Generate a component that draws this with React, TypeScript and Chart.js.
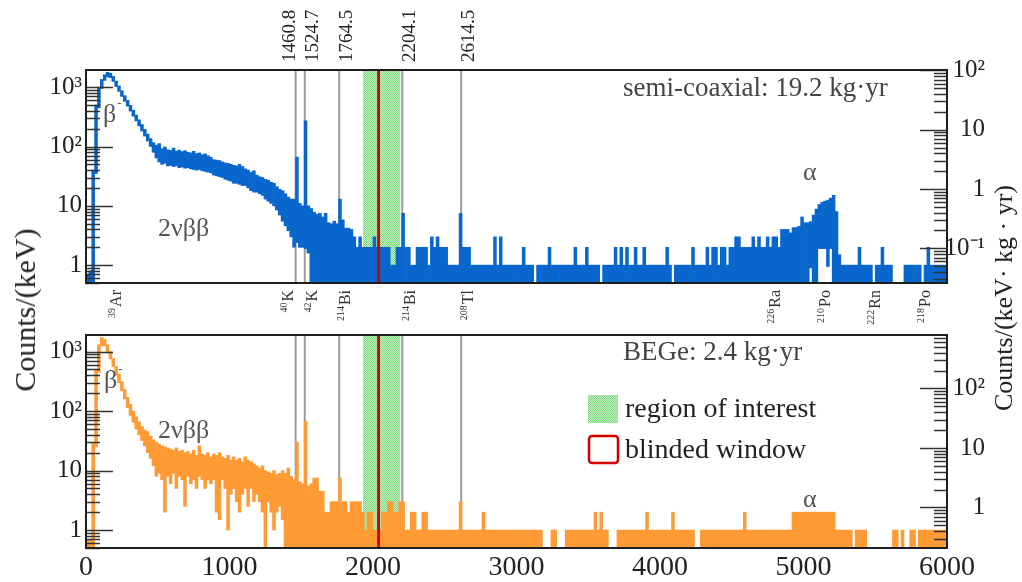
import React, { useEffect, useRef } from 'react';
import { Chart, registerables } from 'chart.js';

Chart.register(...registerables);

const FONT = '"Liberation Serif", "Times New Roman", serif';
const BLUE = '#0866cc';
const ORANGE = '#ff9a35';

// ---------- data ----------
const BIN_WIDTH_KEV = 20;
const ENERGY_MIN = 0;
const ENERGY_MAX = 6000;
const ENERGY_TICK_STEP = 1000;

const EXPOSURE_COAX = 19.2; // kg·yr
const EXPOSURE_BEGE = 2.4; // kg·yr
const COAX_Y_RANGE = [0.5, 1950];
const BEGE_Y_RANGE = [0.5, 1900];

// upper / lower envelope of counts per keV in each 20 keV bin (0 = empty / baseline)
const coaxHi = [
  0.7, 0.8, 40, 500, 1000, 1350, 1620, 1780, 1720, 1520, 1270, 1050, 870, 720, 600, 495, 410, 340, 282, 235,
  195, 162, 136, 116, 105, 112, 92, 98, 88, 86, 94, 84, 87, 82, 85, 80, 78, 83, 76, 78,
  73, 75, 70, 66, 60, 59, 58, 55, 53, 52, 50, 48, 47, 50, 46, 42, 40, 37, 39, 33,
  31, 30, 28, 27, 25, 24, 21, 19, 18, 16, 14, 13, 13, 66, 11, 10, 270, 10, 9, 7.8,
  7.2, 7.5, 6.5, 7.5, 5.2, 5, 5.5, 5, 13, 5.8, 4.2, 4.2, 4, 3, 2, 3, 2, 2, 2, 2,
  3, 2, 2, 2, 2, 2, 1, 1, 2, 2, 7.5, 2, 2, 1, 1, 2, 2, 2, 2, 1,
  3, 2, 3, 2, 2, 2, 1, 1, 1, 1, 7.5, 2, 2, 2, 1, 1, 1, 1, 1, 1,
  1, 1, 3, 1, 3, 1, 1, 1, 1, 1, 1, 1, 2, 1, 1, 1, 0, 1, 1, 1,
  1, 2, 1, 1, 1, 1, 1, 1, 1, 1, 2, 1, 1, 1, 2, 1, 1, 1, 1, 0,
  1, 1, 1, 1, 2, 1, 2, 1, 2, 1, 1, 2, 1, 1, 2, 1, 1, 1, 1, 1,
  1, 1, 2, 1, 0, 1, 1, 1, 1, 1, 1, 2, 1, 1, 1, 1, 2, 1, 2, 2,
  1, 2, 2, 1, 2, 2, 3, 3, 2, 2, 2, 2, 3, 2, 3, 2, 2, 3, 2, 3,
  3, 2, 4, 4, 4, 3.5, 4.3, 4.3, 4.5, 6.5, 5.2, 5.2, 5.4, 7, 8.8, 10.5, 11.5, 12, 12.5, 13.5,
  15, 8, 1.5, 1, 1, 1, 1, 1, 1, 2, 1, 1, 1, 1, 0, 1, 1, 2, 1, 1,
  1, 0, 0, 0, 0, 1, 1, 1, 1, 1, 1, 0, 1, 2, 1, 1, 1, 1, 1, 1,
];
const coaxLo = [
  0, 0, 0, 35, 450, 950, 1300, 1500, 1450, 1250, 1030, 850, 700, 580, 480, 395, 325, 270, 222, 182,
  150, 124, 100, 80, 64, 55, 50, 52, 47, 48, 46, 47, 44, 45, 43, 44, 42, 41, 40, 41,
  39, 38, 37, 36, 33, 32, 31, 30, 28, 27, 26, 24, 24, 23, 22, 22, 20, 18, 17, 17,
  16, 15, 13, 12, 11, 10, 8.5, 7, 5.5, 4.6, 3.8, 3, 2, 2.4, 2, 2, 1.9, 1.6, 0, 0,
  0, 0, 0, 0, 0, 0, 0, 0, 0, 0, 0, 0, 0, 0, 0, 0, 0, 0, 0, 0,
  0, 0, 0, 0, 0, 0, 0, 0, 0, 0, 0, 0, 0, 0, 0, 0, 0, 0, 0, 0,
  0, 0, 0, 0, 0, 0, 0, 0, 0, 0, 0, 0, 0, 0, 0, 0, 0, 0, 0, 0,
  0, 0, 0, 0, 0, 0, 0, 0, 0, 0, 0, 0, 0, 0, 0, 0, 0, 0, 0, 0,
  0, 0, 0, 0, 0, 0, 0, 0, 0, 0, 0, 0, 0, 0, 0, 0, 0, 0, 0, 0,
  0, 0, 0, 0, 0, 0, 0, 0, 0, 0, 0, 0, 0, 0, 0, 0, 0, 0, 0, 0,
  0, 0, 0, 0, 0, 0, 0, 0, 0, 0, 0, 0, 0, 0, 0, 0, 0, 0, 0, 0,
  0, 0, 0, 0, 0, 0, 0, 0, 0, 0, 0, 0, 0, 0, 0, 0, 0, 0, 0, 0,
  0, 0, 0, 0, 0, 0, 0, 0, 0, 0, 0, 0, 0.9, 0, 0, 1.9, 1.9, 1.9, 0.95, 1.9,
  0, 0, 0, 0, 0, 0, 0, 0, 0, 0, 0, 0, 0, 0, 0, 0, 0, 0, 0, 0,
  0, 0, 0, 0, 0, 0, 0, 0, 0, 0, 0, 0, 0, 0, 0, 0, 0, 0, 0, 0,
];
const begeHi = [
  0.7, 0.7, 30, 500, 1300, 1720, 1600, 1300, 1000, 760, 560, 420, 310, 230, 170, 130, 100, 80, 66, 55,
  48, 45, 38, 33, 30, 28, 26, 25, 24, 23, 22, 24, 21, 22, 20, 21, 19, 22, 18, 26,
  19, 18, 20, 17, 19, 18, 20, 17, 16, 18, 15, 17, 15, 16, 14, 17, 15, 14, 13, 12,
  11, 12, 10, 9.5, 9, 10, 8.5, 9, 10, 9, 11, 8, 7, 30, 6.5, 6, 68, 5.5, 6, 7.5,
  7.5, 4.5, 4.5, 2, 2, 3, 3, 3, 7.5, 3, 3, 2, 3, 3, 3, 3, 2, 1, 2, 2,
  1, 1, 1, 2, 2, 3, 3, 2, 2, 3, 3, 1, 1, 2, 2, 1, 1, 2, 2, 1,
  1, 1, 1, 1, 1, 1, 1, 1, 1, 1, 3, 1, 1, 1, 1, 1, 1, 1, 2, 1,
  1, 1, 1, 1, 1, 1, 1, 1, 1, 1, 1, 1, 1, 1, 1, 1, 1, 1, 1, 0,
  0, 0, 1, 1, 0, 0, 0, 1, 1, 1, 1, 1, 1, 1, 1, 1, 1, 2, 1, 2,
  1, 1, 0, 0, 0, 1, 1, 1, 1, 1, 1, 1, 1, 1, 1, 2, 1, 1, 1, 1,
  1, 1, 1, 1, 2, 1, 1, 1, 1, 1, 1, 1, 0, 0, 1, 1, 1, 1, 1, 1,
  1, 1, 1, 1, 1, 1, 1, 1, 1, 2, 1, 1, 1, 1, 1, 1, 1, 1, 1, 1,
  1, 1, 1, 1, 1, 1, 2, 2, 2, 2, 2, 2, 2, 2, 2, 2, 2, 2, 2, 2,
  2, 1, 1, 1, 1, 1, 1, 0, 1, 1, 1, 1, 0, 0, 0, 0, 0, 0, 0, 0,
  0, 1, 1, 0, 1, 0, 0, 1, 1, 0, 1, 1, 1, 1, 1, 1, 1, 1, 1, 1,
];
const begeLo = [
  0, 0, 0, 25, 450, 1250, 1250, 950, 750, 560, 400, 300, 220, 160, 115, 85, 65, 50, 40, 32,
  26, 20, 16, 12, 8, 9, 7, 2, 8, 6, 9, 5, 8, 7, 2.5, 8, 6, 7, 5, 8,
  7, 5, 7, 6, 7, 2, 1.5, 7, 5, 1, 4, 5, 3, 2, 4, 5, 2.5, 5, 3, 4,
  3, 2, 0, 3, 2, 1, 2, 2.5, 1.5, 0, 0, 0, 0, 0, 0, 0, 0, 0, 0, 0,
  0, 0, 0, 0, 0, 0, 0, 0, 0, 0, 0, 0, 0, 0, 0, 0, 0, 0, 0, 0,
  0, 0, 0, 0, 0, 0, 0, 0, 0, 0, 0, 0, 0, 0, 0, 0, 0, 0, 0, 0,
  0, 0, 0, 0, 0, 0, 0, 0, 0, 0, 0, 0, 0, 0, 0, 0, 0, 0, 0, 0,
  0, 0, 0, 0, 0, 0, 0, 0, 0, 0, 0, 0, 0, 0, 0, 0, 0, 0, 0, 0,
  0, 0, 0, 0, 0, 0, 0, 0, 0, 0, 0, 0, 0, 0, 0, 0, 0, 0, 0, 0,
  0, 0, 0, 0, 0, 0, 0, 0, 0, 0, 0, 0, 0, 0, 0, 0, 0, 0, 0, 0,
  0, 0, 0, 0, 0, 0, 0, 0, 0, 0, 0, 0, 0, 0, 0, 0, 0, 0, 0, 0,
  0, 0, 0, 0, 0, 0, 0, 0, 0, 0, 0, 0, 0, 0, 0, 0, 0, 0, 0, 0,
  0, 0, 0, 0, 0, 0, 0, 0, 0, 0, 0, 0, 0, 0, 0, 0, 0, 0, 0, 0,
  0, 0, 0, 0, 0, 0, 0, 0, 0, 0, 0, 0, 0, 0, 0, 0, 0, 0, 0, 0,
  0, 0, 0, 0, 0, 0, 0, 0, 0, 0, 0, 0, 0, 0, 0, 0, 0, 0, 0, 0,
];

const gammaLinesKeV = [1460.8, 1524.7, 1764.5, 2204.1, 2614.5];
const gammaLineLabels = ['1460.8', '1524.7', '1764.5', '2204.1', '2614.5'];
const gammaLabelKeV = [1454, 1616, 1855, 2295, 2705];
const roiKeV = [1930, 2190];
const blindKeV = [2029, 2049];
const isotopeMass = ['39', '40', '42', '214', '214', '208', '226', '210', '222', '218'];
const isotopeSymbol = ['Ar', 'K', 'K', 'Bi', 'Bi', 'Tl', 'Ra', 'Po', 'Rn', 'Po'];
const isotopeLabelKeV = [244, 1443, 1609, 1840, 2293, 2697, 4836, 5185, 5533, 5882];

// ---------- helpers ----------
const EMPTY_FLOOR = 0.05; // drawn below the axis minimum (i.e. down to the frame)

function toBars(hi: number[], lo: number[]) {
  return hi.map((h, i) => ({
    x: ENERGY_MIN + i * BIN_WIDTH_KEV + BIN_WIDTH_KEV / 2,
    y: h > 0 ? [lo[i] > 0 ? lo[i] : EMPTY_FLOOR, h] : null,
  }));
}

const SUP: Record<string, string> = {
  '-': '\u207B', '0': '\u2070', '1': '\u00B9', '2': '\u00B2', '3': '\u00B3',
  '4': '\u2074', '5': '\u2075', '6': '\u2076', '7': '\u2077', '8': '\u2078', '9': '\u2079',
};
function powLabel(v: any) {
  const l = Math.log10(Number(v));
  const r = Math.round(l);
  if (Math.abs(l - r) > 1e-6) return null;
  if (r === 0) return '1';
  if (r === 1) return '10';
  return '10' + String(r).split('').map((c) => SUP[c]).join('');
}

function roiPattern(ctx: CanvasRenderingContext2D) {
  const c = document.createElement('canvas');
  c.width = 2;
  c.height = 2;
  const g = c.getContext('2d')!;
  g.fillStyle = '#c6f2c6';
  g.fillRect(0, 0, 2, 2);
  g.fillStyle = '#7ad87a';
  g.fillRect(0, 0, 1, 1);
  g.fillRect(1, 1, 1, 1);
  return ctx.createPattern(c, 'repeat')!;
}

function drawLogTicks(ctx: CanvasRenderingContext2D, scale: any, xEdge: number, dir: number, majorLen: number, minorLen: number) {
  const d0 = Math.floor(Math.log10(scale.min));
  const d1 = Math.ceil(Math.log10(scale.max));
  for (let d = d0; d <= d1; d++) {
    for (let m = 1; m <= 9; m++) {
      const v = m * Math.pow(10, d);
      if (v < scale.min * 0.9999 || v > scale.max * 1.0001) continue;
      const y = Math.round(scale.getPixelForValue(v)) + 0.5;
      ctx.beginPath();
      ctx.moveTo(xEdge, y);
      ctx.lineTo(xEdge + dir * (m === 1 ? majorLen : minorLen), y);
      ctx.stroke();
    }
  }
}

function rotatedText(ctx: CanvasRenderingContext2D, x: number, y: number, draw: () => void) {
  ctx.save();
  ctx.translate(x, y);
  ctx.rotate(-Math.PI / 2);
  draw();
  ctx.restore();
}

function betaLabel(ctx: CanvasRenderingContext2D, x: number, y: number) {
  ctx.font = `26px ${FONT}`;
  ctx.fillStyle = '#555';
  ctx.textAlign = 'left';
  ctx.fillText('β', x, y);
  const w = ctx.measureText('β').width;
  ctx.font = `13px ${FONT}`;
  ctx.fillText('-', x + w + 1, y - 15);
}

function panelPlugin(kind: 'coax' | 'bege') {
  return {
    id: 'panel_' + kind,
    beforeDatasetsDraw(chart: any) {
      const { ctx, chartArea: a } = chart;
      const x = chart.scales.x;
      ctx.save();
      ctx.fillStyle = roiPattern(ctx);
      const r0 = x.getPixelForValue(roiKeV[0]);
      const r1 = x.getPixelForValue(roiKeV[1]);
      ctx.fillRect(r0, a.top, r1 - r0, a.bottom - a.top);
      ctx.strokeStyle = '#9c9c9c';
      ctx.lineWidth = 2;
      gammaLinesKeV.forEach((e) => {
        const px = x.getPixelForValue(e);
        ctx.beginPath();
        ctx.moveTo(px, a.top);
        ctx.lineTo(px, a.bottom);
        ctx.stroke();
      });
      ctx.restore();
    },
    afterDatasetsDraw(chart: any) {
      const { ctx, chartArea: a } = chart;
      const x = chart.scales.x;
      ctx.save();
      const b0 = x.getPixelForValue(blindKeV[0]);
      const b1 = x.getPixelForValue(blindKeV[1]);
      ctx.fillStyle = '#d40000';
      ctx.fillRect(b0, a.top, b1 - b0, a.bottom - a.top);
      ctx.strokeStyle = '#333';
      ctx.lineWidth = 1.5;
      drawLogTicks(ctx, chart.scales.y, a.left, 1, 27, 14);
      drawLogTicks(ctx, chart.scales.y2, a.right, -1, 27, 13);
      ctx.strokeStyle = '#1e1e1e';
      ctx.lineWidth = 2;
      ctx.strokeRect(a.left, a.top, a.right - a.left, a.bottom - a.top);
      ctx.restore();
    },
    afterDraw(chart: any) {
      const { ctx, chartArea: a } = chart;
      const x = chart.scales.x;
      ctx.save();
      ctx.textBaseline = 'alphabetic';
      if (kind === 'coax') {
        // gamma line energies above the panel
        ctx.fillStyle = '#222';
        ctx.font = `19px ${FONT}`;
        gammaLineLabels.forEach((t, i) => {
          rotatedText(ctx, x.getPixelForValue(gammaLabelKeV[i]), a.top - 8, () => {
            ctx.textAlign = 'left';
            ctx.fillText(t, 0, 0);
          });
        });
        // isotope names below the panel
        ctx.fillStyle = '#333';
        isotopeSymbol.forEach((sym, i) => {
          rotatedText(ctx, x.getPixelForValue(isotopeLabelKeV[i]), a.bottom + 7, () => {
            ctx.textAlign = 'right';
            ctx.font = `16px ${FONT}`;
            ctx.fillText(sym, 0, 0);
            const w = ctx.measureText(sym).width;
            ctx.font = `10px ${FONT}`;
            ctx.fillText(isotopeMass[i], -w - 1, -6);
          });
        });
        ctx.fillStyle = '#444';
        ctx.textAlign = 'left';
        ctx.font = `27px ${FONT}`;
        ctx.fillText('semi-coaxial: 19.2 kg·yr', 623, 96);
        betaLabel(ctx, 103, 122);
        ctx.fillStyle = '#555';
        ctx.font = `26px ${FONT}`;
        ctx.fillText('2νββ', 158, 236);
        ctx.fillText('α', 803, 180);
      } else {
        ctx.fillStyle = '#444';
        ctx.textAlign = 'left';
        ctx.font = `27px ${FONT}`;
        ctx.fillText('BEGe: 2.4 kg·yr', 623, 28);
        betaLabel(ctx, 104, 56);
        ctx.fillStyle = '#555';
        ctx.font = `26px ${FONT}`;
        ctx.fillText('2νββ', 158, 106);
        ctx.fillText('α', 803, 175);
        // legend
        ctx.fillStyle = roiPattern(ctx);
        ctx.fillRect(588, 63, 30, 28);
        ctx.strokeStyle = '#d40000';
        ctx.lineWidth = 2.5;
        ctx.beginPath();
        (ctx as any).roundRect(589, 104, 29, 27, 3);
        ctx.stroke();
        ctx.fillStyle = '#222';
        ctx.font = `28px ${FONT}`;
        ctx.fillText('region of interest', 625, 85);
        ctx.fillText('blinded window', 625, 126);
      }
      ctx.restore();
    },
  };
}

function makeConfig(opts: {
  hi: number[]; lo: number[]; color: string; yRange: number[]; exposure: number;
  showX: boolean; padding: any; kind: 'coax' | 'bege';
}) {
  const yTicks = (align: string) => ({
    autoSkip: false,
    padding: 4,
    crossAlign: align,
    color: '#222',
    font: { family: FONT, size: 25 },
    callback: (v: any) => powLabel(v),
  });
  const fixY = (w: number) => (s: any) => {
    s.width = w;
    s.paddingTop = 0;
    s.paddingBottom = 0;
  };
  return {
    type: 'bar',
    data: {
      datasets: [
        {
          data: toBars(opts.hi, opts.lo),
          backgroundColor: opts.color,
          borderWidth: 0,
          barPercentage: 1,
          categoryPercentage: 1,
          yAxisID: 'y',
        },
      ],
    },
    options: {
      animation: false,
      responsive: false,
      devicePixelRatio: 1,
      events: [],
      layout: { padding: opts.padding },
      plugins: { legend: { display: false }, tooltip: { enabled: false } },
      scales: {
        x: {
          type: 'linear',
          min: ENERGY_MIN,
          max: ENERGY_MAX,
          offset: false,
          display: opts.showX,
          grid: { display: false, drawTicks: false },
          border: { display: false },
          ticks: {
            stepSize: ENERGY_TICK_STEP,
            autoSkip: false,
            maxRotation: 0,
            padding: 3,
            color: '#222',
            font: { family: FONT, size: 28 },
            callback: (v: any) => String(v),
          },
          afterFit: (s: any) => {
            if (opts.showX) s.height = 34;
            s.paddingLeft = 0;
            s.paddingRight = 0;
          },
        },
        y: {
          type: 'logarithmic',
          position: 'left',
          min: opts.yRange[0],
          max: opts.yRange[1],
          grid: { display: false, drawTicks: false },
          border: { display: false },
          ticks: yTicks('near'),
          afterFit: fixY(86),
        },
        y2: {
          type: 'logarithmic',
          position: 'right',
          min: opts.yRange[0] / opts.exposure,
          max: opts.yRange[1] / opts.exposure,
          grid: { display: false, drawTicks: false },
          border: { display: false },
          ticks: yTicks('far'),
          afterFit: fixY(38),
        },
      },
    },
    plugins: [panelPlugin(opts.kind)],
  } as any;
}

function titleStyle(cx: number, cy: number, size: number): React.CSSProperties {
  return {
    position: 'absolute',
    left: cx,
    top: cy,
    transform: 'translate(-50%, -50%) rotate(-90deg)',
    font: `${size}px ${FONT}`,
    lineHeight: 1,
    whiteSpace: 'nowrap',
    color: '#222',
  };
}

export default function App() {
  const topRef = useRef<HTMLCanvasElement>(null);
  const botRef = useRef<HTMLCanvasElement>(null);

  useEffect(() => {
    const top = new Chart(
      topRef.current!,
      makeConfig({
        hi: coaxHi, lo: coaxLo, color: BLUE, yRange: COAX_Y_RANGE, exposure: EXPOSURE_COAX,
        showX: false, padding: { top: 70, bottom: 49, left: 0, right: 37 }, kind: 'coax',
      })
    );
    const bottom = new Chart(
      botRef.current!,
      makeConfig({
        hi: begeHi, lo: begeLo, color: ORANGE, yRange: BEGE_Y_RANGE, exposure: EXPOSURE_BEGE,
        showX: true, padding: { top: 3, bottom: 0, left: 0, right: 37 }, kind: 'bege',
      })
    );
    return () => {
      top.destroy();
      bottom.destroy();
    };
  }, []);

  return (
    <div style={{ position: 'absolute', left: 0, top: 0, width: 1022, height: 582, background: '#fff', overflow: 'hidden' }}>
      <canvas ref={topRef} width={1022} height={332} style={{ position: 'absolute', left: 0, top: 0 }} />
      <canvas ref={botRef} width={1022} height={250} style={{ position: 'absolute', left: 0, top: 332 }} />
      <div style={titleStyle(25, 310, 30)}>Counts/(keV)</div>
      <div style={titleStyle(1004, 298, 26)}>Counts/(keV· kg · yr)</div>
    </div>
  );
}
